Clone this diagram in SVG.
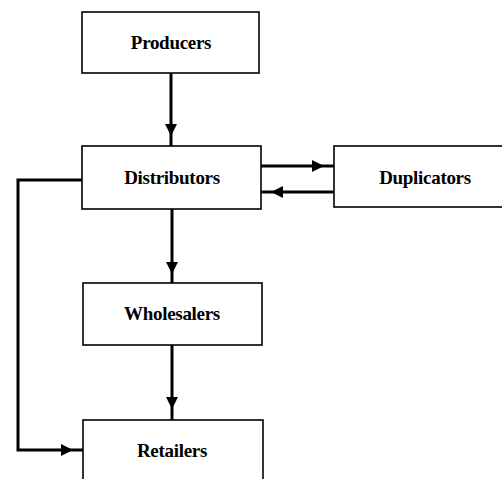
<svg xmlns="http://www.w3.org/2000/svg" width="502" height="479" viewBox="0 0 502 479">
<style>
.box{fill:#fff;stroke:#000;stroke-width:1.6}
.lbl{font-family:"Liberation Serif","Times New Roman",serif;font-size:19px;font-weight:bold;text-anchor:middle;fill:#000;letter-spacing:-0.3px}
.con{fill:none;stroke:#000;stroke-width:3}
</style>
<defs>
<marker id="ah" markerWidth="4" markerHeight="4" refX="4" refY="2" orient="auto" markerUnits="strokeWidth">
<path d="M0,0 L4,2 L0,4 Z" fill="#000"/>
</marker>
</defs>
<rect width="502" height="479" fill="#fff"/>
<g id="connectors">
<path class="con" d="M171,73 V136" marker-end="url(#ah)"/>
<path class="con" d="M171,146 V136"/>
<path class="con" d="M261,166 H324" marker-end="url(#ah)"/>
<path class="con" d="M324,166 H334"/>
<path class="con" d="M334,192 H271" marker-end="url(#ah)"/>
<path class="con" d="M271,192 H261"/>
<path class="con" d="M172,209 V274" marker-end="url(#ah)"/>
<path class="con" d="M172,274 V283"/>
<path class="con" d="M172,345 V409" marker-end="url(#ah)"/>
<path class="con" d="M172,409 V420"/>
<path class="con" d="M82,180 H18 V450 H73" marker-end="url(#ah)"/>
<path class="con" d="M73,450 H83"/>
</g>
<g id="producers">
<rect class="box" x="82" y="12" width="177" height="61"/>
<text class="lbl" x="171" y="49">Producers</text>
</g>
<g id="distributors">
<rect class="box" x="82" y="146" width="179" height="63"/>
<text class="lbl" x="172" y="184">Distributors</text>
</g>
<g id="duplicators">
<rect class="box" x="334" y="146" width="172" height="61"/>
<text class="lbl" x="425" y="184">Duplicators</text>
</g>
<g id="wholesalers">
<rect class="box" x="83" y="283" width="179" height="62"/>
<text class="lbl" x="172" y="320">Wholesalers</text>
</g>
<g id="retailers">
<rect class="box" x="83" y="420" width="180" height="64"/>
<text class="lbl" x="172" y="457">Retailers</text>
</g>
</svg>
